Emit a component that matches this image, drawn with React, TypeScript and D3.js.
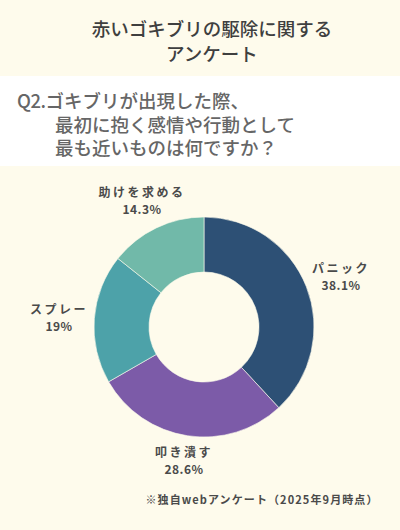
import React from 'react';
import * as d3 from 'd3';

const categories = ['パニック', '叩き潰す', 'スプレー', '助けを求める'];
const shares = [38.1, 28.6, 19, 14.3];
const colors = ['#2d5075', '#7c5ba8', '#4da2a9', '#71b9a9'];
const titleLines = ['赤いゴキブリの駆除に関する', 'アンケート'];
const questionPrefix = 'Q2.';
const questionLines = ['ゴキブリが出現した際、', '最初に抱く感情や行動として', '最も近いものは何ですか？'];
const note = '※独自webアンケート（2025年9月時点）';

const W = 400;
const H = 530;
const cx = 204;
const cy = 327;
const outerR = 110;
const innerR = 55;

// label positions for each slice (x, y of first line)
const labelPos: [number, number][] = [
  [341, 267],
  [184, 451],
  [59, 308],
  [142, 191],
];

export default function App() {
  const pie = d3.pie<number>().sort(null).value((d) => d);
  const arcs = pie(shares);
  const arc = d3.arc<d3.PieArcDatum<number>>().innerRadius(innerR).outerRadius(outerR);
  const font = '"Noto Sans CJK JP", "Noto Sans", sans-serif';

  return (
    <svg width={W} height={H} style={{ position: 'absolute', left: 0, top: 0 }} fontFamily={font}>
      <rect width={W} height={H} fill="#fefbec" />
      <rect y={76} width={W} height={90} fill="#ffffff" />
      {titleLines.map((t, i) => (
        <text key={t} x={212} y={28 + i * 25} textAnchor="middle" dominantBaseline="central"
          fontSize={18.5} fontWeight={500} fill="#3f3f3f">{t}</text>
      ))}
      <text x={17} y={100} dominantBaseline="central" fontSize={18.5} fontWeight={500} fill="#666666">
        <tspan letterSpacing={-0.5}>{questionPrefix}</tspan>
        <tspan>{questionLines[0]}</tspan>
      </text>
      {questionLines.slice(1).map((t, i) => (
        <text key={t} x={55} y={123.5 + i * 23.5} dominantBaseline="central"
          fontSize={18.5} fontWeight={500} fill="#666666">{t}</text>
      ))}
      <g transform={`translate(${cx},${cy})`}>
        {arcs.map((a, i) => (
          <path key={categories[i]} d={arc(a) ?? ''} fill={colors[i]} stroke="#fefbec" strokeWidth={0.6} />
        ))}
      </g>
      {categories.map((c, i) => (
        <g key={c} fill="#4a4a4a" fontWeight={700} fontSize={12} textAnchor="middle">
          <text x={labelPos[i][0]} y={labelPos[i][1]} dominantBaseline="central" letterSpacing={2.5}>{c}</text>
          <text x={labelPos[i][0]} y={labelPos[i][1] + 17} dominantBaseline="central" letterSpacing={0.5}>{`${shares[i]}%`}</text>
        </g>
      ))}
      <text x={262} y={499} textAnchor="middle" dominantBaseline="central" fontSize={11}
        fontWeight={700} fill="#4a4a4a" letterSpacing={1.1}>{note}</text>
    </svg>
  );
}
